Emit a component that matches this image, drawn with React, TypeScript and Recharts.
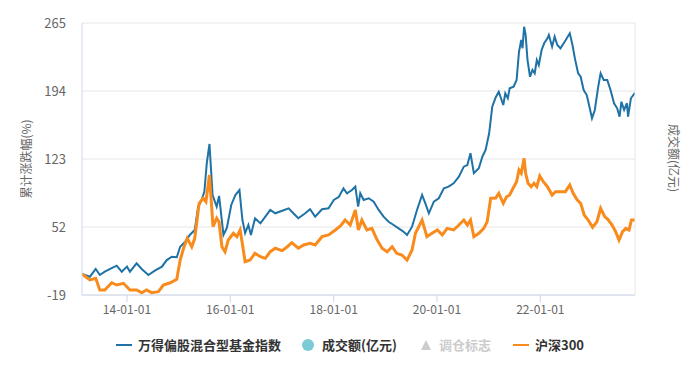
import React from 'react';
import { LineChart, Line, XAxis, YAxis, CartesianGrid } from 'recharts';

const fundDates = [
  '2013-02-17', '2013-04-14', '2013-05-25', '2013-06-23', '2013-07-28', '2013-09-04', '2013-10-20', '2013-11-25',
  '2014-01-01', '2014-01-22', '2014-03-10', '2014-04-15', '2014-06-01', '2014-07-17', '2014-09-05', '2014-10-09', '2014-11-14', '2014-12-19',
  '2015-01-12', '2015-02-17', '2015-03-21', '2015-04-25', '2015-05-19', '2015-06-13', '2015-07-02', '2015-07-19', '2015-08-07', '2015-08-29', '2015-09-27', '2015-10-14', '2015-11-14', '2015-12-08',
  '2016-01-08', '2016-02-06', '2016-03-06', '2016-03-27', '2016-04-15', '2016-05-08', '2016-05-26', '2016-06-24', '2016-08-01', '2016-09-05', '2016-10-10', '2016-11-14',
  '2017-01-02', '2017-02-17', '2017-03-22', '2017-04-26', '2017-06-14', '2017-07-18', '2017-08-23', '2017-10-11', '2017-11-26',
  '2018-01-02', '2018-02-07', '2018-03-11', '2018-04-05', '2018-05-10', '2018-06-03', '2018-06-23', '2018-07-08', '2018-08-01', '2018-09-06', '2018-10-11', '2018-11-15', '2018-12-20',
  '2019-01-24', '2019-03-01', '2019-04-05', '2019-05-10', '2019-06-04', '2019-07-09', '2019-08-13', '2019-09-18', '2019-10-11', '2019-11-05', '2019-12-10',
  '2020-01-14', '2020-02-19', '2020-03-23', '2020-04-28', '2020-06-04', '2020-07-09', '2020-08-03', '2020-08-25', '2020-09-18', '2020-10-23', '2020-11-17', '2020-12-10',
  '2021-01-04', '2021-01-26', '2021-02-19', '2021-03-13',
  '2021-04-14', '2021-04-28', '2021-05-16', '2021-05-29', '2021-06-26', '2021-07-17', '2021-08-03', '2021-08-19', '2021-08-28', '2021-09-08', '2021-09-19', '2021-10-02', '2021-10-20', '2021-11-06', '2021-11-22', '2021-12-07', '2021-12-21',
  '2022-01-10', '2022-01-28', '2022-02-20', '2022-03-02', '2022-03-25', '2022-04-12', '2022-05-01', '2022-05-23', '2022-06-22', '2022-07-28', '2022-08-16', '2022-09-02', '2022-09-25', '2022-10-13', '2022-11-03', '2022-11-25', '2022-12-11',
  '2023-01-01', '2023-01-21', '2023-02-14', '2023-03-03', '2023-03-25', '2023-04-19', '2023-05-12', '2023-06-06', '2023-06-28', '2023-07-15', '2023-07-28', '2023-08-16', '2023-09-05', '2023-09-13', '2023-10-03', '2023-11-01',
];

// 万得偏股混合型基金指数 累计涨跌幅(%)
const fundValues = [
  2.9, 0.1, 8.2, 1.9, 5.3, 8.2, 11.6, 5.3,
  10.6, 5.3, 14.1, 8.2, 1.9, 6.4, 10.6, 17.5, 21.0, 20.4,
  31.4, 36.7, 43.7, 48.9, 73.2, 80.2, 88.9, 118.5, 138.7, 85.4, 73.2, 84.4, 43.7, 51.0,
  75.0, 85.4, 90.6, 59.3, 45.7, 54.1, 43.7, 61.1, 55.9, 62.8, 69.8, 66.3,
  69.0, 71.5, 66.3, 61.1, 66.3, 70.5, 62.8, 70.5, 71.5,
  80.2, 83.6, 92.4, 87.2, 90.6, 94.1, 73.2, 87.2, 80.2, 82.0, 78.4, 69.8, 62.8,
  57.5, 54.1, 50.6, 47.1, 43.7, 52.3, 69.8, 85.4, 76.7, 66.3, 78.4,
  82.0, 92.4, 94.1, 97.6, 104.5, 115.0, 116.7, 129.0, 108.1, 113.3, 125.4, 132.4,
  149.8, 177.6, 187.2, 193.3,
  179.4, 191.6, 186.4, 196.8, 198.5, 205.5, 235.0, 247.3, 238.6, 261.1, 252.5, 226.4, 208.9, 215.9, 212.5, 226.4, 221.1,
  236.8, 243.8, 249.0, 252.5, 240.3, 250.7, 242.0, 238.6, 245.5, 254.2, 242.0, 228.1, 212.5, 208.9, 195.0, 189.8, 179.4,
  165.5, 174.2, 198.5, 212.5, 205.5, 205.5, 195.0, 181.2, 175.9, 167.2, 182.8, 174.2, 181.2, 167.2, 186.4, 192.2,
];

const hs300Dates = [
  '2013-02-17', '2013-04-14', '2013-05-25', '2013-06-23', '2013-07-28', '2013-09-15', '2013-10-20', '2013-12-07',
  '2014-01-22', '2014-03-10', '2014-04-15', '2014-05-19', '2014-06-24', '2014-08-11', '2014-09-15', '2014-11-03', '2014-12-19',
  '2015-01-12', '2015-02-05', '2015-03-03', '2015-04-04', '2015-04-25', '2015-05-26', '2015-06-24', '2015-07-13', '2015-08-07', '2015-09-01', '2015-09-27', '2015-10-14', '2015-11-03', '2015-11-25', '2015-12-18',
  '2016-01-23', '2016-02-17', '2016-03-11', '2016-03-26', '2016-04-15', '2016-05-20', '2016-06-24', '2016-08-01', '2016-09-05', '2016-10-10', '2016-11-14',
  '2017-01-02', '2017-02-07', '2017-03-11', '2017-04-26', '2017-06-03', '2017-07-18', '2017-08-23', '2017-10-11', '2017-11-26',
  '2018-01-13', '2018-02-18', '2018-03-23', '2018-04-28', '2018-06-03', '2018-06-25', '2018-07-19', '2018-08-24', '2018-09-28', '2018-11-05', '2018-12-09',
  '2019-01-14', '2019-02-18', '2019-03-23', '2019-04-28', '2019-06-04', '2019-07-09', '2019-08-02', '2019-09-18', '2019-10-22', '2019-11-27',
  '2020-01-04', '2020-02-08', '2020-03-13', '2020-04-28', '2020-06-04', '2020-07-09', '2020-08-03', '2020-08-25', '2020-09-18', '2020-10-23', '2020-11-27', '2020-12-21',
  '2021-01-15', '2021-02-19', '2021-03-13',
  '2021-04-14', '2021-05-07', '2021-05-29', '2021-06-22', '2021-07-17', '2021-08-03', '2021-08-19', '2021-09-08', '2021-09-19', '2021-10-06', '2021-10-28', '2021-11-17', '2021-12-07', '2021-12-28',
  '2022-01-22', '2022-02-20', '2022-03-25', '2022-04-18', '2022-05-23', '2022-06-27', '2022-07-28', '2022-08-21', '2022-09-19', '2022-10-13', '2022-11-07', '2022-12-05',
  '2023-01-05', '2023-02-05', '2023-03-03', '2023-04-01', '2023-04-23', '2023-05-23', '2023-06-17', '2023-07-11', '2023-08-05', '2023-08-28', '2023-09-20', '2023-10-07', '2023-11-01',
];

// 沪深300 累计涨跌幅(%)
const hs300Values = [
  2.9, -3.3, -1.6, -13.8, -13.8, -6.2, -8.6, -6.8,
  -13.8, -13.8, -16.6, -13.8, -16.6, -15.5, -8.6, -6.2, -2.6,
  17.5, 29.8, 40.2, 31.4, 40.2, 76.7, 82.0, 78.4, 106.3, 52.3, 61.1, 57.2, 31.4, 26.2, 38.4,
  45.4, 41.9, 48.9, 35.0, 15.8, 17.5, 24.5, 21.0, 19.3, 26.2, 29.8,
  27.3, 31.4, 35.6, 29.8, 33.2, 35.0, 33.2, 41.9, 43.7,
  48.9, 53.0, 59.3, 54.1, 69.8, 48.9, 59.3, 48.9, 50.6, 38.4, 29.8,
  26.2, 31.4, 24.5, 22.8, 17.5, 28.0, 45.4, 59.3, 41.9, 45.4,
  48.9, 43.7, 50.6, 48.9, 54.1, 59.3, 54.1, 59.3, 41.9, 45.4, 50.6, 57.5,
  82.0, 82.3, 87.2,
  76.7, 83.6, 85.4, 92.4, 99.3, 111.5, 108.1, 123.7, 108.1, 97.6, 94.1, 97.6, 94.1, 105.3,
  99.3, 94.1, 85.4, 88.9, 88.9, 88.9, 95.9, 87.2, 80.2, 76.7, 64.5, 59.3,
  51.7, 57.5, 71.5, 62.8, 60.0, 54.1, 47.1, 38.4, 47.1, 50.6, 48.9, 59.3, 59.3,
];

const yTicks = [-19, 52, 123, 194, 265];
const xTickDates = ['2014-01-01', '2016-01-01', '2018-01-01', '2020-01-01', '2022-01-01'];

const FUND_COLOR = '#1f72a6';
const HS300_COLOR = '#f98b1c';
const FONT = '"Noto Sans CJK SC", "Noto Sans", sans-serif';

const toTime = (d: string) => Date.parse(d + 'T00:00:00Z');
const fmtDate = (t: number) => {
  const d = new Date(t);
  const p = (n: number) => String(n).padStart(2, '0');
  return `${p(d.getUTCFullYear() % 100)}-${p(d.getUTCMonth() + 1)}-${p(d.getUTCDate())}`;
};

const fundData = fundDates.map((d, i) => ({ t: toTime(d), v: fundValues[i] }));
const hs300Data = hs300Dates.map((d, i) => ({ t: toTime(d), v: hs300Values[i] }));
const xDomain = [toTime(fundDates[0]), toTime(fundDates[fundDates.length - 1])];

const LeftTitle = () => (
  <text x={25} y={159} transform="rotate(-90 25 159)" textAnchor="middle" dominantBaseline="central"
    fill="#666" fontSize={12} fontFamily={FONT}>累计涨跌幅(%)</text>
);

const RightTitle = () => (
  <text x={674} y={158} transform="rotate(90 674 158)" textAnchor="middle" dominantBaseline="central"
    fill="#666" fontSize={12} fontFamily={FONT}>成交额(亿元)</text>
);

const legendText: React.CSSProperties = {
  position: 'absolute', top: 337, fontSize: 13, fontWeight: 700, color: '#333', lineHeight: '16px', whiteSpace: 'nowrap',
};

export default function App() {
  return (
    <div style={{ position: 'relative', width: 700, height: 376, background: '#fff', fontFamily: FONT }}>
      <style>{'body{margin:0}'}</style>
      <LineChart width={700} height={376} margin={{ top: 23, right: 0, left: 0, bottom: 51 }}>
        <CartesianGrid yAxisId="left" vertical={false} stroke="#e6e6e6" />
        <XAxis
          type="number"
          dataKey="t"
          domain={xDomain}
          ticks={xTickDates.map(toTime)}
          tickFormatter={fmtDate}
          allowDataOverflow
          height={30}
          tickSize={7}
          tickMargin={3}
          axisLine={{ stroke: '#ccd6eb' }}
          tickLine={{ stroke: '#ccd6eb' }}
          tick={{ fill: '#666', fontSize: 12, fontFamily: FONT }}
        />
        <YAxis
          yAxisId="left"
          domain={[-19, 265]}
          ticks={yTicks}
          allowDataOverflow
          width={82}
          tickLine={false}
          tickSize={0}
          tickMargin={16}
          axisLine={{ stroke: '#ccd6eb' }}
          tick={{ fill: '#666', fontSize: 13, fontFamily: FONT }}
          label={<LeftTitle />}
        />
        <YAxis
          yAxisId="right"
          orientation="right"
          width={65}
          tick={false}
          tickLine={false}
          axisLine={{ stroke: '#e6e6e6' }}
          label={<RightTitle />}
        />
        <Line yAxisId="left" data={fundData} dataKey="v" name="万得偏股混合型基金指数" type="linear"
          stroke={FUND_COLOR} strokeWidth={2} dot={false} isAnimationActive={false} />
        <Line yAxisId="left" data={hs300Data} dataKey="v" name="沪深300" type="linear"
          stroke={HS300_COLOR} strokeWidth={3} dot={false} isAnimationActive={false} />
      </LineChart>

      <div style={{ position: 'absolute', left: 116, top: 344, width: 16, height: 2, background: FUND_COLOR }} />
      <div style={{ ...legendText, left: 138 }}>万得偏股混合型基金指数</div>
      <div style={{ position: 'absolute', left: 302, top: 339, width: 12, height: 12, borderRadius: 6, background: '#7ccad6' }} />
      <div style={{ ...legendText, left: 322 }}>成交额(亿元)</div>
      <svg style={{ position: 'absolute', left: 420, top: 339 }} width={12} height={12}>
        <polygon points="6,1 11,11 1,11" fill="#cccccc" />
      </svg>
      <div style={{ ...legendText, left: 439, color: '#cccccc' }}>调仓标志</div>
      <div style={{ position: 'absolute', left: 513, top: 344, width: 16, height: 2, background: HS300_COLOR }} />
      <div style={{ ...legendText, left: 535 }}>沪深300</div>
    </div>
  );
}
